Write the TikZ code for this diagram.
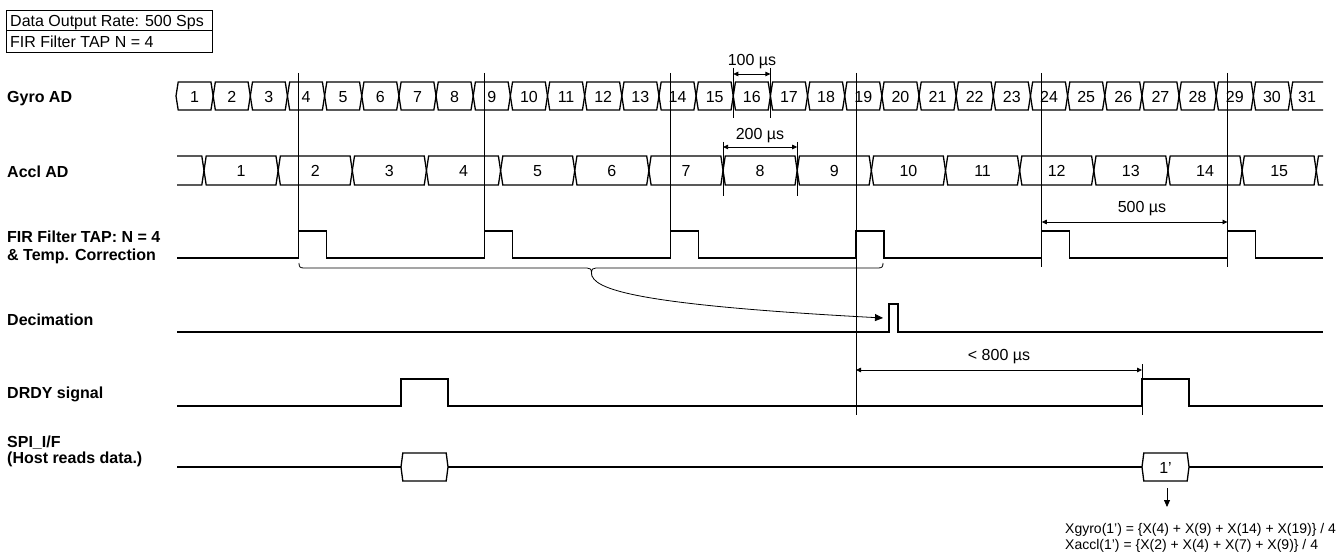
\documentclass[tikz,border=0pt]{standalone}
\usepackage{fontspec}
\setmainfont{Liberation Sans}
\usetikzlibrary{arrows.meta}
\begin{document}
\begin{tikzpicture}[x=1pt,y=-1pt,
  sig/.style={line width=1.3pt, line join=miter},
  guide/.style={line width=0.8pt},
  thinline/.style={line width=0.8pt},
  dimarrow/.style={line width=0.8pt, {Triangle[length=5pt,width=4.5pt]}-{Triangle[length=5pt,width=4.5pt]}},
  txt/.style={inner sep=0pt, text height=11.5pt, text depth=0pt, font=\fontsize{16}{19}\selectfont},
  lbl/.style={inner sep=0pt, text height=11.5pt, text depth=0pt, anchor=west, font=\fontsize{16}{19}\selectfont\bfseries},
  num/.style={txt},
  form/.style={inner sep=0pt, anchor=west, text height=10pt, text depth=0pt, font=\fontsize{14}{17}\selectfont}
]
\useasboundingbox (0,0) rectangle (1341,553);

% top-left box
\draw[thinline] (6,10) rectangle (212,52);
\draw[thinline] (6,30.5) -- (212,30.5);
\node[txt, anchor=west] (rate) at (10,20.5) {Data Output Rate: 500 Sps};
\node[txt, anchor=west] (tap) at (10,41.5) {FIR Filter TAP N = 4};

% row labels
\node[lbl] (lgyro) at (7,97.2) {Gyro AD};
\node[lbl] (laccl) at (7,171.7) {Accl AD};
\node[lbl] (lfir1) at (7,236.7) {FIR Filter TAP: N = 4};
\node[lbl] (lfir2) at (7,254.3) {\& Temp. Correction};
\node[lbl] (ldec) at (7,320) {Decimation};
\node[lbl] (ldrdy) at (7,393) {DRDY signal};
\node[lbl] (lspi1) at (7,441.7) {SPI\_I/F};
\node[lbl] (lspi2) at (7,458) {(Host reads data.)};

% Gyro AD cells
\foreach \n in {1,...,30}{
  \pgfmathsetmacro\xa{176+37.15*(\n-1)}
  \pgfmathsetmacro\xb{\xa+37.15}
  \draw[sig] (\xa,96) -- (\xa+2.2,82) -- (\xb-2.2,82) -- (\xb,96) -- (\xb-2.2,110) -- (\xa+2.2,110) -- cycle;
  \node[num] (g\n) at ({(\xa+\xb)/2},96.5) {\n};
}
\draw[sig] (1323,82) -- (1292.7,82) -- (1290.5,96) -- (1292.7,110) -- (1323,110);
\node[num] (g31) at (1307,96.5) {31};

% Accl AD cells
\draw[sig] (177,156) -- (201.8,156) -- (204,170.5) -- (201.8,185) -- (177,185);
\foreach \m in {1,...,15}{
  \pgfmathsetmacro\xa{204+74.15*(\m-1)}
  \pgfmathsetmacro\xb{\xa+74.15}
  \draw[sig] (\xa,170.5) -- (\xa+2.2,156) -- (\xb-2.2,156) -- (\xb,170.5) -- (\xb-2.2,185) -- (\xa+2.2,185) -- cycle;
  \node[num] (a\m) at ({(\xa+\xb)/2},171) {\m};
}
\draw[sig] (1323,156) -- (1318.45,156) -- (1316.25,170.5) -- (1318.45,185) -- (1323,185);

% vertical guide lines
\draw[guide] (298.75,73) -- (298.75,258);
\draw[guide] (484.5,73) -- (484.5,258);
\draw[guide] (670.25,73) -- (670.25,258);
\draw[guide] (856,73) -- (856,415);
\draw[guide] (1041.75,73) -- (1041.75,267);
\draw[guide] (1227.5,73) -- (1227.5,267);

% FIR waveform
\draw[sig] (177,258) -- (298.75,258) -- (298.75,231) -- (326.75,231) -- (326.75,258)
  -- (484.5,258) -- (484.5,231) -- (512.5,231) -- (512.5,258)
  -- (670.25,258) -- (670.25,231) -- (698.25,231) -- (698.25,258)
  -- (856,258) -- (856,231) -- (884,231) -- (884,258)
  -- (1041.75,258) -- (1041.75,231) -- (1069.75,231) -- (1069.75,258)
  -- (1227.5,258) -- (1227.5,231) -- (1255.5,231) -- (1255.5,258) -- (1323,258);

% brace
\coordinate (btip) at (591.5,273);
\draw[thinline] (299,263) .. controls (299,267) and (300,268) .. (304,268) -- (587,268)
  .. controls (590,268) and (591.5,269) .. (btip)
  .. controls (591.5,269) and (593,268) .. (596,268) -- (878,268)
  .. controls (882,268) and (883,267) .. (883,263);

% Decimation
\draw[sig] (177,332) -- (889,332) -- (889,304) -- (898,304) -- (898,332) -- (1323,332);
\coordinate (dec) at (883,318);
\draw[thinline, -{Triangle[length=8pt,width=7pt]}] (btip) .. controls (591.5,290) and (640,305) .. (dec);

% DRDY
\draw[sig] (177,406) -- (401,406) -- (401,379) -- (448,379) -- (448,406)
  -- (1142,406) -- (1142,379) -- (1189,379) -- (1189,406) -- (1323,406);

% SPI
\draw[sig] (177,467) -- (401,467);
\draw[sig] (401,467) -- (402.8,453) -- (446.2,453) -- (448,467) -- (446.2,481) -- (402.8,481) -- cycle;
\draw[sig] (448,467) -- (1142,467);
\draw[sig] (1142,467) -- (1143.8,453) -- (1187.2,453) -- (1189,467) -- (1187.2,481) -- (1143.8,481) -- cycle;
\node[txt] (spi1) at (1165.5,467.5) {1'};
\draw[sig] (1189,467) -- (1323,467);

% dimension 100 us
\draw[guide] (733.25,68) -- (733.25,118);
\draw[guide] (770.4,68) -- (770.4,118);
\draw[dimarrow] (733.25,74) -- (770.4,74);
\node[txt] (d100) at (752,60) {100 µs};

% dimension 200 us
\draw[guide] (723.05,142) -- (723.05,196);
\draw[guide] (797.2,142) -- (797.2,196);
\draw[dimarrow] (723.05,147) -- (797.2,147);
\node[txt] (d200) at (760,133.5) {200 µs};

% dimension 500 us
\draw[dimarrow] (1041.75,222) -- (1227.5,222);
\node[txt] (d500) at (1142,207) {500 µs};

% dimension < 800 us
\draw[guide] (1142,364) -- (1142,415);
\draw[dimarrow] (856,370) -- (1142,370);
\node[txt] (d800) at (999,355) {< 800 µs};

% formula
\coordinate (fa0) at (1167,488);
\coordinate (fa1) at (1167,507);
\draw[thinline, -{Triangle[length=7pt,width=6pt]}] (fa0) -- (fa1);
\node[form] (fgyro) at (1065,528.5) {Xgyro(1') = \{X(4) + X(9) + X(14) + X(19)\} / 4};
\node[form] (faccl) at (1065,544.5) {Xaccl(1') = \{X(2) + X(4) + X(7) + X(9)\} / 4};
\end{tikzpicture}
\end{document}
